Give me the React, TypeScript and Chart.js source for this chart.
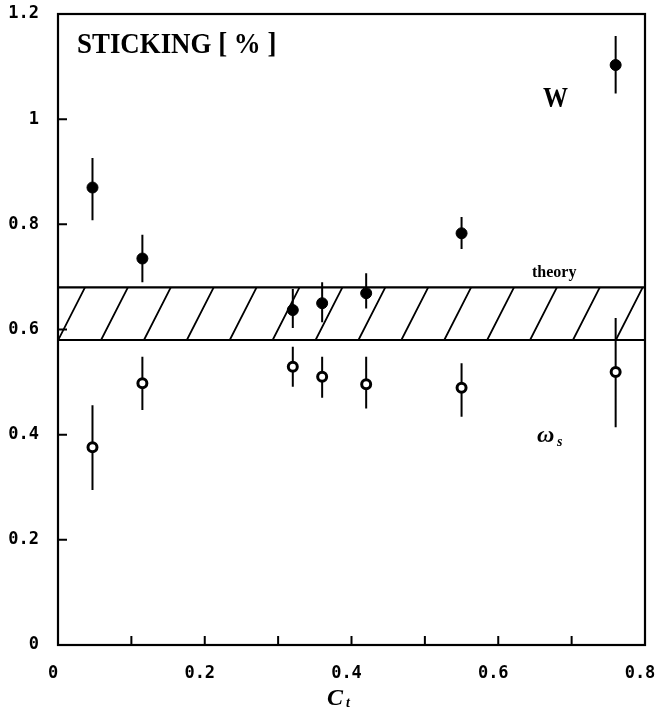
import React, { useEffect, useRef } from "react";
import { Chart, registerables } from "chart.js";

Chart.register(...registerables);

// ---- data ----
const C_T = [0.047, 0.115, 0.32, 0.36, 0.42, 0.55, 0.76];
const W_VALUES = [0.87, 0.735, 0.637, 0.65, 0.669, 0.783, 1.103];
const W_LOW = [0.808, 0.69, 0.603, 0.614, 0.64, 0.753, 1.049];
const W_HIGH = [0.926, 0.78, 0.677, 0.69, 0.707, 0.814, 1.158];
const WS_VALUES = [0.376, 0.498, 0.529, 0.51, 0.496, 0.489, 0.519];
const WS_LOW = [0.295, 0.447, 0.491, 0.47, 0.45, 0.434, 0.414];
const WS_HIGH = [0.456, 0.548, 0.567, 0.548, 0.548, 0.536, 0.622];
const THEORY_BAND = [0.58, 0.68];
const X_MINOR_TICKS = [0.1, 0.2, 0.3, 0.4, 0.5, 0.6, 0.7];
const Y_MINOR_TICKS = [0.2, 0.4, 0.6, 0.8, 1.0];
const TITLE = "STICKING [ % ]";
const LABEL_W = "W";
const LABEL_THEORY = "theory";
const LABEL_WS = "ω";
const LABEL_WS_SUB = "s";
const X_TITLE = "C";
const X_TITLE_SUB = "t";

const TICK_FONT = { family: "'DejaVu Sans Mono', monospace", size: 17, weight: "bold" as const };
const fmt = (v: any) => String(+Number(v).toFixed(1));

export default function App() {
  const ref = useRef<HTMLCanvasElement>(null);

  useEffect(() => {
    const canvas = ref.current;
    if (!canvas) return;

    const decor = {
      id: "decor",
      beforeDatasetsDraw(chart: any) {
        const { ctx, chartArea: a, scales } = chart;
        const x = scales.x;
        const y = scales.y;
        ctx.save();
        // theory band
        const yt = y.getPixelForValue(THEORY_BAND[1]);
        const yb = y.getPixelForValue(THEORY_BAND[0]);
        ctx.strokeStyle = "#000";
        ctx.lineWidth = 2.2;
        ctx.beginPath();
        ctx.moveTo(a.left, yt);
        ctx.lineTo(a.right, yt);
        ctx.moveTo(a.left, yb);
        ctx.lineTo(a.right, yb);
        ctx.stroke();
        ctx.save();
        ctx.beginPath();
        ctx.rect(a.left, yt, a.right - a.left, yb - yt);
        ctx.clip();
        ctx.lineWidth = 1.8;
        const h = yb - yt;
        const dx = h * 0.51;
        ctx.beginPath();
        for (let tx = a.left + 27; tx < a.right + dx + 45; tx += 42.9) {
          ctx.moveTo(tx - dx, yb);
          ctx.lineTo(tx, yt);
        }
        ctx.stroke();
        ctx.restore();

        // error bars
        ctx.lineWidth = 2;
        ctx.beginPath();
        for (let i = 0; i < C_T.length; i++) {
          const px = x.getPixelForValue(C_T[i]);
          ctx.moveTo(px, y.getPixelForValue(W_LOW[i]));
          ctx.lineTo(px, y.getPixelForValue(W_HIGH[i]));
          ctx.moveTo(px, y.getPixelForValue(WS_LOW[i]));
          ctx.lineTo(px, y.getPixelForValue(WS_HIGH[i]));
        }
        ctx.stroke();
        ctx.restore();
      },
      afterDraw(chart: any) {
        const { ctx, chartArea: a, scales } = chart;
        const x = scales.x;
        const y = scales.y;
        ctx.save();
        ctx.strokeStyle = "#000";
        // frame
        ctx.lineWidth = 2.2;
        ctx.strokeRect(a.left, a.top, a.right - a.left, a.bottom - a.top);
        // inward ticks
        ctx.lineWidth = 2;
        ctx.beginPath();
        for (const v of Y_MINOR_TICKS) {
          const py = y.getPixelForValue(v);
          ctx.moveTo(a.left, py);
          ctx.lineTo(a.left + 9, py);
        }
        for (const v of X_MINOR_TICKS) {
          const px = x.getPixelForValue(v);
          ctx.moveTo(px, a.bottom);
          ctx.lineTo(px, a.bottom - 9);
        }
        ctx.stroke();

        // texts
        ctx.fillStyle = "#000";
        ctx.textBaseline = "alphabetic";
        ctx.textAlign = "left";
        ctx.save();
        ctx.translate(a.left + 19, a.top + 39);
        ctx.scale(1.12, 1.2);
        ctx.font = "bold 24px 'Liberation Serif', serif";
        ctx.fillText(TITLE, 0, 0);
        ctx.restore();

        ctx.save();
        ctx.translate(543, 107);
        ctx.scale(1, 1.15);
        ctx.font = "bold 25px 'Liberation Serif', serif";
        ctx.fillText(LABEL_W, 0, 0);
        ctx.restore();

        ctx.font = "bold 16px 'Liberation Serif', serif";
        ctx.fillText(LABEL_THEORY, 532, 277);

        ctx.font = "bold italic 24px 'Liberation Serif', serif";
        ctx.fillText(LABEL_WS, 537, 442);
        ctx.font = "bold italic 14px 'Liberation Serif', serif";
        ctx.fillText(LABEL_WS_SUB, 557, 446);

        ctx.font = "bold italic 24px 'Liberation Serif', serif";
        ctx.fillText(X_TITLE, 327, 705);
        ctx.font = "bold italic 14px 'Liberation Serif', serif";
        ctx.fillText(X_TITLE_SUB, 346, 707);
        ctx.restore();
      },
    };

    const chart = new Chart(canvas, {
      type: "scatter",
      data: {
        datasets: [
          {
            label: "W",
            data: C_T.map((c, i) => ({ x: c, y: W_VALUES[i] })),
            pointStyle: "circle",
            pointRadius: 5.5,
            pointBackgroundColor: "#000",
            pointBorderColor: "#000",
            pointBorderWidth: 1,
          },
          {
            label: "ωs",
            data: C_T.map((c, i) => ({ x: c, y: WS_VALUES[i] })),
            pointStyle: "circle",
            pointRadius: 4.5,
            pointBackgroundColor: "#fff",
            pointBorderColor: "#000",
            pointBorderWidth: 3,
          },
        ],
      },
      options: {
        responsive: false,
        animation: false,
        events: [],
        layout: { padding: { left: 0, right: 15, top: 14, bottom: 0 } },
        plugins: { legend: { display: false }, tooltip: { enabled: false } },
        scales: {
          x: {
            type: "linear",
            min: 0,
            max: 0.8,
            grid: { display: false },
            border: { display: false },
            ticks: { stepSize: 0.2, color: "#000", font: TICK_FONT, padding: 10, labelOffset: -5, callback: fmt },
            afterFit: (s: any) => {
              s.height = 65;
              s.paddingLeft = 0;
              s.paddingRight = 0;
            },
          },
          y: {
            type: "linear",
            min: 0,
            max: 1.2,
            grid: { display: false },
            border: { display: false },
            ticks: { stepSize: 0.2, color: "#000", font: TICK_FONT, padding: 11, callback: fmt },
            afterFit: (s: any) => {
              s.width = 58;
              s.paddingTop = 0;
              s.paddingBottom = 0;
            },
          },
        },
      },
      plugins: [decor],
    });
    return () => chart.destroy();
  }, []);

  return (
    <div style={{ position: "fixed", left: 0, top: 0, width: 660, height: 710, background: "#fff" }}>
      <canvas ref={ref} width={660} height={710} style={{ display: "block" }} />
    </div>
  );
}
